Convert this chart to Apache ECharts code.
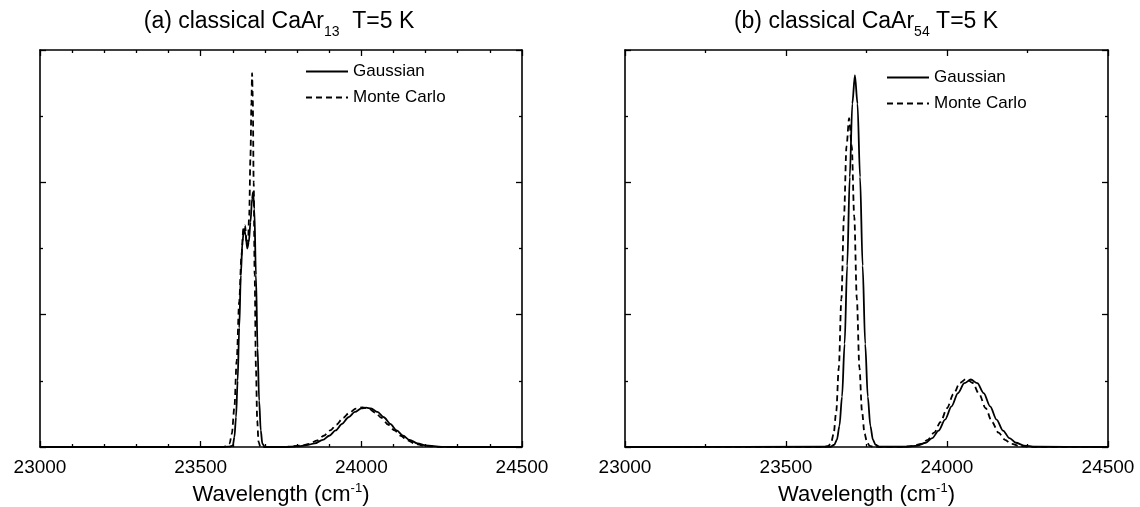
<!DOCTYPE html>
<html>
<head>
<meta charset="utf-8">
<script src="https://cdn.jsdelivr.net/npm/echarts@6/dist/echarts.min.js"></script>
<style>
  html, body { margin: 0; padding: 0; background: #fff; }
  #chart { width: 1140px; height: 507px; }
</style>
</head>
<body>
<div id="chart"></div>
<script>
// panel (a) CaAr13 — Gaussian (solid)
const aGaussX = [23000, 23550, 23590, 23600, 23605, 23610, 23615, 23620, 23625, 23630, 23635, 23640, 23645, 23650, 23655, 23660, 23663, 23667, 23672, 23677, 23682, 23687, 23692, 23700,
  23760, 23800, 23830, 23855, 23880, 23900, 23920, 23940, 23960, 23980, 24000, 24015, 24030, 24050, 24070, 24090, 24110, 24130, 24150, 24175, 24200, 24250, 24300, 24500];
const aGaussY = [0, 0, 0.005, 0.02, 0.15, 0.45, 1.0, 1.8, 2.6, 3.1, 3.3, 3.2, 3.0, 3.1, 3.4, 3.75, 3.85, 3.6, 2.6, 1.5, 0.7, 0.25, 0.05, 0,
  0, 0.008, 0.028, 0.055, 0.107, 0.17, 0.25, 0.35, 0.45, 0.53, 0.583, 0.595, 0.583, 0.53, 0.45, 0.35, 0.25, 0.17, 0.107, 0.055, 0.024, 0.003, 0, 0];

// panel (a) — Monte Carlo (dashed)
const aMcX = [23000, 23570, 23580, 23590, 23597, 23605, 23612, 23620, 23627, 23633, 23638, 23643, 23647, 23651, 23655, 23658, 23660, 23662, 23665, 23668, 23672, 23676, 23680, 23686,
  23763, 23813, 23838, 23863, 23883, 23903, 23923, 23943, 23963, 23983, 24003, 24023, 24043, 24063, 24083, 24103, 24123, 24143, 24168, 24193, 24243, 24500];
const aMcY = [0, 0, 0.01, 0.05, 0.2, 0.6, 1.3, 2.2, 2.9, 3.3, 3.35, 3.1, 3.05, 3.5, 4.4, 5.2, 5.65, 5.3, 4.0, 2.6, 1.2, 0.4, 0.08, 0,
  0.002, 0.02, 0.048, 0.1, 0.17, 0.25, 0.34, 0.44, 0.52, 0.58, 0.6, 0.58, 0.52, 0.44, 0.34, 0.25, 0.17, 0.1, 0.048, 0.02, 0.002, 0];

// panel (b) CaAr54 — Gaussian (solid)
const bGaussX = [23000, 23638, 23650, 23658, 23666, 23674, 23682, 23690, 23698, 23706, 23714, 23722, 23730, 23738, 23746, 23754, 23762, 23770, 23778, 23790,
  23874, 23909, 23934, 23954, 23974, 23994, 24014, 24034, 24054, 24074, 24094, 24114, 24134, 24154, 24174, 24194, 24214, 24239, 24274, 24500];
const bGaussY = [0, 0.004, 0.034, 0.11, 0.32, 0.76, 1.56, 2.74, 4.08, 5.19, 5.62, 5.19, 4.08, 2.74, 1.56, 0.76, 0.32, 0.11, 0.034, 0.004,
  0.004, 0.022, 0.064, 0.133, 0.248, 0.415, 0.615, 0.815, 0.965, 1.02, 0.965, 0.815, 0.615, 0.415, 0.248, 0.133, 0.064, 0.022, 0.004, 0];

// panel (b) — Monte Carlo (dashed)
const bMcX = [23000, 23620, 23632, 23640, 23648, 23656, 23664, 23672, 23680, 23688, 23696, 23704, 23712, 23720, 23728, 23736, 23744, 23752, 23760, 23772,
  23860, 23895, 23920, 23940, 23960, 23980, 24000, 24020, 24040, 24060, 24080, 24100, 24120, 24140, 24160, 24180, 24200, 24225, 24260, 24500];
const bMcY = [0, 0.002, 0.017, 0.065, 0.2, 0.54, 1.2, 2.24, 3.48, 4.55, 4.97, 4.55, 3.48, 2.24, 1.2, 0.54, 0.2, 0.065, 0.017, 0.002,
  0.002, 0.014, 0.048, 0.109, 0.216, 0.378, 0.586, 0.8, 0.967, 1.03, 0.967, 0.8, 0.586, 0.378, 0.216, 0.109, 0.048, 0.014, 0.002, 0];

const xTicks = [23000, 23500, 24000, 24500];
const seriesNames = ['Gaussian', 'Monte Carlo'];

const FONT = '"Liberation Sans", Arial, sans-serif';
const pair = (xs, ys) => xs.map((x, i) => [x, ys[i]]);

var chart = echarts.init(document.getElementById('chart'));

function xAxisFor(grid, pos, minorSplit) {
  const bottom = pos === 'bottom';
  return {
    type: 'value', gridIndex: grid, position: pos,
    min: xTicks[0], max: xTicks[xTicks.length - 1], interval: 500,
    axisLine: { show: true, onZero: false, lineStyle: { color: '#000', width: 1.6 } },
    axisTick: { show: true, inside: true, length: 6, lineStyle: { color: '#000', width: 1.3 } },
    minorTick: { show: true, splitNumber: minorSplit, length: 3, lineStyle: { color: '#000', width: 1.3 } },
    splitLine: { show: false },
    axisLabel: { show: bottom, color: '#000', fontSize: 19, fontFamily: FONT, margin: 11,
      formatter: v => String(v) },
    name: bottom ? 'Wavelength (cm{sup|-1})' : '',
    nameLocation: 'middle', nameGap: 34,
    nameTextStyle: {
      color: '#000', fontSize: 22, fontFamily: FONT, lineHeight: 26,
      rich: { sup: { fontSize: 13, fontFamily: FONT, color: '#000', verticalAlign: 'top', lineHeight: 26 } }
    }
  };
}

function yAxisFor(grid, pos) {
  return {
    type: 'value', gridIndex: grid, position: pos,
    min: 0, max: 6, interval: 2,
    axisLine: { show: true, lineStyle: { color: '#000', width: 1.6 } },
    axisTick: { show: true, inside: true, length: 6, lineStyle: { color: '#000', width: 1.3 } },
    minorTick: { show: true, splitNumber: 2, length: 3, lineStyle: { color: '#000', width: 1.3 } },
    splitLine: { show: false },
    axisLabel: { show: false }
  };
}

function lineSeries(name, x, y, data, dashed) {
  return {
    name: name, type: 'line', xAxisIndex: x, yAxisIndex: y,
    data: data, symbol: 'none', smooth: 0.3, smoothMonotone: 'x',
    lineStyle: { color: '#000', width: 1.8, type: dashed ? [6, 4] : 'solid' },
    itemStyle: { color: '#000' },
    animation: false, silent: true
  };
}

function titleFor(text, left) {
  return {
    text: text, left: left, top: 0, textAlign: 'center',
    textStyle: {
      color: '#000', fontSize: 23, fontWeight: 'normal', fontFamily: FONT, lineHeight: 28,
      rich: { sub: { fontSize: 14, fontFamily: FONT, color: '#000', verticalAlign: 'bottom', lineHeight: 34 } }
    }
  };
}

function legendFor(left, top) {
  return {
    data: seriesNames, orient: 'vertical', left: left, top: top,
    itemWidth: 42, itemHeight: 12, itemGap: 9,
    itemStyle: { opacity: 0 },
    textStyle: { color: '#000', fontSize: 17, fontFamily: FONT },
    selectedMode: false
  };
}

chart.setOption({
  animation: false,
  backgroundColor: '#fff',
  title: [
    titleFor('(a) classical CaAr{sub|13}  T=5 K', 274),
    titleFor('(b) classical CaAr{sub|54} T=5 K', 861)
  ],
  legend: [legendFor(300, 58), legendFor(881, 64)],
  grid: [
    { left: 40, right: 618, top: 50, bottom: 60, outerBoundsMode: 'none' },
    { left: 625, right: 32, top: 50, bottom: 60, outerBoundsMode: 'none' }
  ],
  xAxis: [xAxisFor(0, 'bottom', 5), xAxisFor(0, 'top', 5), xAxisFor(1, 'bottom', 2), xAxisFor(1, 'top', 2)],
  yAxis: [yAxisFor(0, 'left'), yAxisFor(0, 'right'), yAxisFor(1, 'left'), yAxisFor(1, 'right')],
  series: [
    lineSeries('Gaussian', 0, 0, pair(aGaussX, aGaussY), false),
    lineSeries('Monte Carlo', 0, 0, pair(aMcX, aMcY), true),
    lineSeries('Gaussian', 2, 2, pair(bGaussX, bGaussY), false),
    lineSeries('Monte Carlo', 2, 2, pair(bMcX, bMcY), true)
  ]
});
</script>
</body>
</html>
